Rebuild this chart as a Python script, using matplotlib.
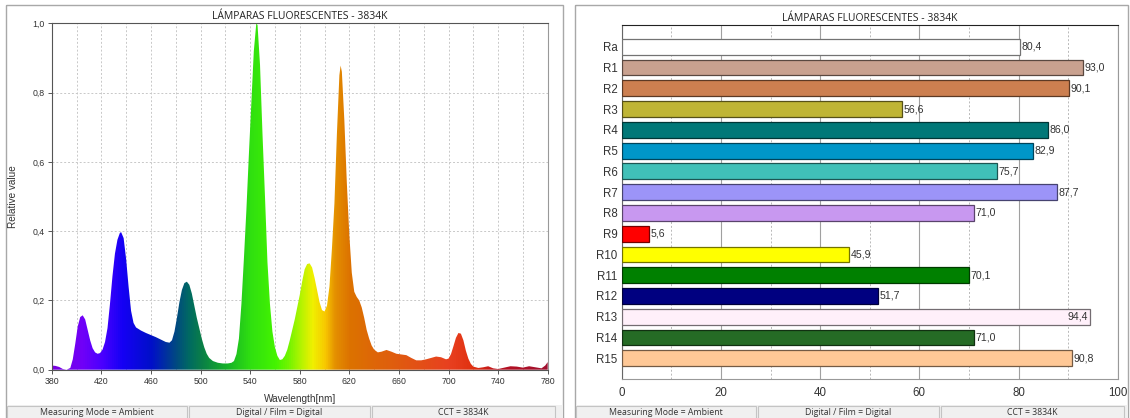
import numpy as np
import matplotlib.pyplot as plt
from matplotlib.colors import LinearSegmentedColormap, to_rgb
from matplotlib.patches import Rectangle

plt.rcParams['font.family'] = ['Liberation Sans', 'DejaVu Sans']

TITLE = "LÁMPARAS FLUORESCENTES - 3834K"
STATUS = ["Measuring Mode = Ambient", "Digital / Film = Digital", "CCT = 3834K"]

# spectral power distribution (relative)
wavelength = [380, 383, 386, 389, 392, 395, 397, 399, 401, 403, 405, 407, 409, 411, 413, 415, 417, 419,
              421, 423, 425, 427, 429, 431, 433, 435, 436, 438, 440, 442, 444, 446, 448, 452, 456, 460,
              464, 468, 472, 475, 477, 479, 481, 483, 485, 487, 489, 491, 493, 495, 497, 499, 501, 503,
              505, 507, 510, 514, 518, 522, 525, 527, 529, 531, 533, 535, 537, 539, 541, 543, 545, 546,
              548, 550, 552, 554, 556, 558, 560, 562, 564, 566, 568, 570, 572, 574, 576, 578, 580, 582,
              584, 586, 588, 590, 592, 594, 596, 598, 600, 602, 604, 606, 608, 610, 612, 613, 614, 616,
              618, 620, 622, 624, 626, 628, 630, 632, 634, 636, 638, 640, 643, 646, 650, 654, 658, 662,
              666, 670, 674, 678, 682, 686, 690, 694, 698, 700, 702, 704, 706, 708, 710, 712, 714, 716,
              718, 720, 724, 728, 732, 736, 740, 745, 750, 755, 760, 765, 770, 775, 778, 780]
relative = [0.012, 0.011, 0.008, 0.002, 0.000, 0.005, 0.030, 0.075, 0.125, 0.152, 0.157, 0.145, 0.115,
            0.085, 0.062, 0.050, 0.046, 0.048, 0.058, 0.080, 0.120, 0.190, 0.270, 0.335, 0.375, 0.395,
            0.397, 0.380, 0.320, 0.240, 0.170, 0.135, 0.122, 0.113, 0.106, 0.100, 0.094, 0.087, 0.080,
            0.078, 0.085, 0.110, 0.150, 0.195, 0.230, 0.250, 0.254, 0.245, 0.220, 0.185, 0.150, 0.120,
            0.090, 0.065, 0.046, 0.034, 0.025, 0.020, 0.018, 0.018, 0.020, 0.025, 0.045, 0.090, 0.190,
            0.320, 0.460, 0.620, 0.770, 0.920, 1.000, 0.995, 0.880, 0.680, 0.500, 0.310, 0.190, 0.110,
            0.065, 0.040, 0.028, 0.030, 0.040, 0.058, 0.085, 0.115, 0.145, 0.180, 0.215, 0.255, 0.290,
            0.305, 0.307, 0.295, 0.265, 0.230, 0.195, 0.172, 0.168, 0.185, 0.240, 0.350, 0.480, 0.680,
            0.850, 0.878, 0.860, 0.720, 0.540, 0.390, 0.280, 0.225, 0.210, 0.200, 0.180, 0.150, 0.115,
            0.090, 0.070, 0.058, 0.050, 0.052, 0.057, 0.052, 0.046, 0.044, 0.042, 0.034, 0.027, 0.027,
            0.030, 0.034, 0.038, 0.036, 0.030, 0.032, 0.045, 0.068, 0.092, 0.106, 0.104, 0.085, 0.055,
            0.032, 0.017, 0.009, 0.005, 0.007, 0.010, 0.004, 0.002, 0.006, 0.010, 0.009, 0.006, 0.010,
            0.007, 0.004, 0.012, 0.022]

# colour rendering indices
cri_names = ["Ra", "R1", "R2", "R3", "R4", "R5", "R6", "R7", "R8", "R9", "R10", "R11", "R12", "R13", "R14", "R15"]
cri_values = [80.4, 93.0, 90.1, 56.6, 86.0, 82.9, 75.7, 87.7, 71.0, 5.6, 45.9, 70.1, 51.7, 94.4, 71.0, 90.8]
cri_colors = ["#ffffff", "#c9a18f", "#cc7f50", "#bfb535", "#007878", "#0096c8", "#40c0b8", "#9c94f8",
              "#c898f0", "#ff0000", "#ffff00", "#008000", "#000080", "#fff0fa", "#256b25", "#ffc896"]

spectrum_cmap = LinearSegmentedColormap.from_list("spectrum", [
    (0.000, "#7a00e0"), (0.060, "#7000f8"), (0.100, "#4a00ff"), (0.140, "#1500f5"),
    (0.200, "#0010c8"), (0.250, "#004a80"), (0.275, "#006a62"), (0.300, "#0a7e48"),
    (0.350, "#14b028"), (0.400, "#30e010"), (0.450, "#44f400"), (0.475, "#70f400"),
    (0.500, "#b0f400"), (0.525, "#f0f000"), (0.550, "#f8c800"), (0.570, "#e49000"),
    (0.600, "#dc7200"), (0.700, "#e05a10"), (0.800, "#e84020"), (0.850, "#e03010"),
    (0.900, "#b81020"), (1.000, "#a01030")])

fig = plt.figure(figsize=(11.3, 4.18), dpi=100)

# window frames and status bars, in pixel coordinates
bg = fig.add_axes([0, 0, 1, 1], zorder=-1)
bg.set_xlim(0, 1130)
bg.set_ylim(418, 0)
bg.axis('off')
for x0, x1, cells in [(6, 563, [6, 188, 371, 556]), (575, 1128, [575, 757, 940, 1125])]:
    bg.add_patch(Rectangle((x0, 5), x1 - x0, 420, fill=False, ec="#a8a8a8", lw=1))
    bg.add_patch(Rectangle((x0 + 0.5, 405), x1 - x0 - 1, 14, fc="#f0f0f0", ec="none"))
    for i in range(3):
        bg.add_patch(Rectangle((cells[i] + 1, 406), cells[i + 1] - cells[i] - 2, 13,
                               fill=False, ec="#c4c4c4", lw=0.8))
        bg.text((cells[i] + cells[i + 1]) / 2, 412.5, STATUS[i], ha='center', va='center',
                fontsize=6.3, color="#333333", family=['Open Sans', 'DejaVu Sans'])

# spectrum panel
ax1 = fig.add_axes([51.7 / 1130, 48.3 / 418, 496 / 1130, 346.4 / 418])
poly = ax1.fill_between(wavelength, relative, 0, facecolor='none', edgecolor='none')
grad = np.linspace(0, 1, 512).reshape(1, -1)
img = ax1.imshow(grad, extent=[380, 780, 0, 1], aspect='auto', cmap=spectrum_cmap,
                 origin='lower', zorder=2)
img.set_clip_path(poly.get_paths()[0], transform=ax1.transData)
ax1.set_xlim(380, 780)
ax1.set_ylim(0, 1)
ax1.set_xticks(np.arange(380, 781, 40))
ax1.set_xticks(np.arange(380, 781, 20), minor=True)
ax1.set_yticks(np.arange(0, 1.01, 0.2))
ax1.set_yticklabels([f"{v:.1f}".replace('.', ',') for v in np.arange(0, 1.01, 0.2)])
ax1.grid(True, which='both', axis='x', color="#c8c8c8", ls=(0, (2, 2)), lw=0.7, zorder=0)
ax1.grid(True, which='major', axis='y', color="#c8c8c8", ls=(0, (2, 2)), lw=0.7, zorder=0)
ax1.set_axisbelow(True)
ax1.tick_params(which='major', labelsize=6.3, labelcolor="#333333", length=3, width=0.7, color="#555555", pad=2)
ax1.tick_params(which='minor', length=0)
for s in ['left', 'bottom', 'top']:
    ax1.spines[s].set_color("#555555")
ax1.spines['right'].set_color("#999999")
for s in ax1.spines.values():
    s.set_linewidth(0.8)
ax1.set_xlabel("Wavelength[nm]", fontsize=7.2, color="#333333", labelpad=6)
ax1.set_ylabel("Relative value", fontsize=7.2, color="#333333")
ax1.yaxis.set_label_coords(-34 / 496, 0.5)
ax1.set_title(TITLE, fontsize=7.5, color="#222222", pad=3, family=['Open Sans', 'DejaVu Sans'])

# colour rendering panel
ax2 = fig.add_axes([621.7 / 1130, 39 / 418, 496 / 1130, 354 / 418])
ypos = np.arange(len(cri_names))
edges = [tuple(0.45 * c for c in to_rgb(col)) for col in cri_colors]
ax2.barh(ypos, cri_values, height=0.76, color=cri_colors, edgecolor=edges, linewidth=0.9, zorder=3)
for y, v in zip(ypos, cri_values):
    label = f"{v:.1f}".replace('.', ',')
    if v > 94:
        ax2.text(v - 0.4, y, label, ha='right', va='center', fontsize=7.6, color="#333333", zorder=4)
    else:
        ax2.text(v + 0.3, y, label, ha='left', va='center', fontsize=7.6, color="#333333", zorder=4)
ax2.set_xlim(0, 100)
ax2.set_ylim(16.0, -1.05)
ax2.set_yticks(ypos)
ax2.set_yticklabels(cri_names)
ax2.set_xticks(np.arange(0, 101, 20))
ax2.set_xticks(np.arange(10, 100, 20), minor=True)
ax2.grid(True, which='major', axis='x', color="#a0a0a0", lw=0.8, zorder=0)
ax2.grid(True, which='minor', axis='x', color="#b8b8b8", ls=(0, (2, 2)), lw=0.7, zorder=0)
ax2.set_axisbelow(True)
ax2.tick_params(axis='x', which='both', length=0, labelsize=8.3, labelcolor="#333333", pad=6)
ax2.tick_params(axis='y', length=0, labelsize=8.3, labelcolor="#333333", pad=3)
ax2.spines['top'].set_color("#222222")
ax2.spines['left'].set_color("#666666")
ax2.spines['right'].set_color("#999999")
ax2.spines['bottom'].set_color("#999999")
ax2.set_title(TITLE, fontsize=7.5, color="#222222", pad=3, family=['Open Sans', 'DejaVu Sans'])

fig.savefig("out.png", dpi=100)
